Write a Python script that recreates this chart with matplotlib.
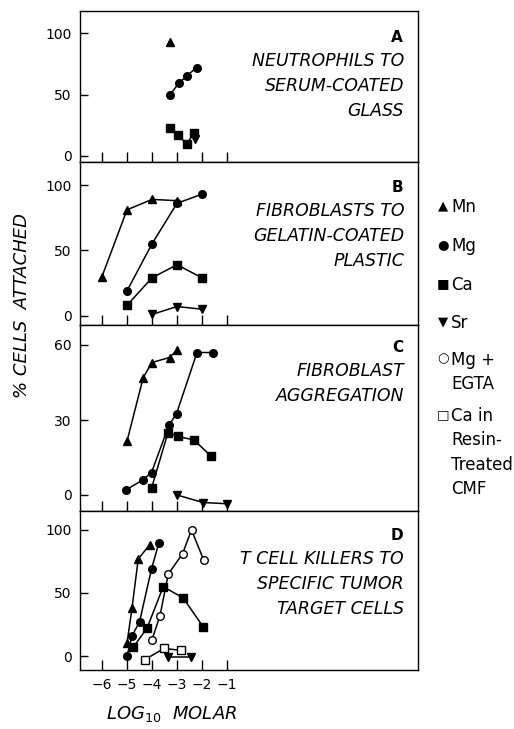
import matplotlib
matplotlib.use("Agg")
import matplotlib.pyplot as plt

# x = log10 molar, y = % cells attached
# panel A: neutrophils to serum-coated glass
a_mn_x = [-3.3]
a_mn_y = [93]
a_mg_x = [-3.27, -2.94, -2.61, -2.22]
a_mg_y = [50, 59, 65, 72]
a_ca_x = [-3.27, -2.97, -2.61, -2.31]
a_ca_y = [23, 17, 10, 19]
a_sr_x = [-2.27]
a_sr_y = [14]

# panel B: fibroblasts to gelatin-coated plastic
b_mn_x = [-6, -5, -4, -3]
b_mn_y = [30, 81, 89, 88]
b_mg_x = [-5, -4, -3, -2]
b_mg_y = [19, 55, 86, 93]
b_ca_x = [-5, -4, -3, -2]
b_ca_y = [8, 29, 39, 29]
b_sr_x = [-4, -3, -2]
b_sr_y = [1, 7, 5]

# panel C: fibroblast aggregation
c_mn_x = [-5, -4.35, -4, -3.3, -3]
c_mn_y = [21.5, 47, 53, 55, 58]
c_mg_x = [-5.05, -4.37, -4.02, -3.32, -3.02, -2.2, -1.57]
c_mg_y = [2, 6, 9, 28, 32.5, 57, 57]
c_ca_x = [-4.02, -3.36, -2.98, -2.32, -1.63]
c_ca_y = [2.7, 25, 23.5, 22, 15.5]
c_sr_x = [-3, -1.96, -1]
c_sr_y = [0, -3, -3.5]

# panel D: T cell killers to specific tumor target cells
d_mn_x = [-5, -4.8, -4.55, -4.1]
d_mn_y = [10, 38, 77, 88]
d_mg_x = [-5, -4.8, -4.5, -4.02, -3.72]
d_mg_y = [0, 16, 27, 69, 90]
d_ca_x = [-4.75, -4.2, -3.55, -2.75, -1.95]
d_ca_y = [7, 22, 55, 46, 23]
d_sr_x = [-3.35, -2.45]
d_sr_y = [-1, -1]
d_egta_x = [-4.0, -3.68, -3.35, -2.78, -2.42, -1.93]
d_egta_y = [13, 32, 65, 81, 100, 76]
d_resin_x = [-4.3, -3.52, -2.85]
d_resin_y = [-3, 6, 4.5]

x_ticks = [-6, -5, -4, -3, -2, -1]
legend_symbols = ["\u25B2", "\u25CF", "\u25A0", "\u25BC", "\u25CB", "\u25A1"]
legend_labels = ["Mn", "Mg", "Ca", "Sr", "Mg +\nEGTA", "Ca in\nResin-\nTreated\nCMF"]

W, H = 514, 729
fig = plt.figure(figsize=(W / 100, H / 100), dpi=100)

left = 80 / W
width = (418 - 80) / W


def make_axes(top_px, bot_px):
    return fig.add_axes([left, 1 - bot_px / H, width, (bot_px - top_px) / H])


style = dict(color="black", lw=1.1, ms=5.5, clip_on=False)

panels = []

ax = make_axes(11, 162)
ax.plot(a_mn_x, a_mn_y, marker="^", ls="none", **style)
ax.plot(a_mg_x, a_mg_y, marker="o", **style)
ax.plot(a_ca_x, a_ca_y, marker="s", **style)
ax.plot(a_sr_x, a_sr_y, marker="v", ls="none", **style)
ax.set_ylim(-4.9, 118)
ax.set_yticks([0, 50, 100])
panels.append(ax)

ax = make_axes(162, 325)
ax.plot(b_mn_x, b_mn_y, marker="^", **style)
ax.plot(b_mg_x, b_mg_y, marker="o", **style)
ax.plot(b_ca_x, b_ca_y, marker="s", **style)
ax.plot(b_sr_x, b_sr_y, marker="v", **style)
ax.set_ylim(-7.1, 117.6)
ax.set_yticks([0, 50, 100])
panels.append(ax)

ax = make_axes(325, 511)
ax.plot(c_mn_x, c_mn_y, marker="^", **style)
ax.plot(c_mg_x, c_mg_y, marker="o", **style)
ax.plot(c_ca_x, c_ca_y, marker="s", **style)
ax.plot(c_sr_x, c_sr_y, marker="v", **style)
ax.set_ylim(-6.4, 68)
ax.set_yticks([0, 30, 60])
panels.append(ax)

ax = make_axes(511, 670)
ax.plot(d_mn_x, d_mn_y, marker="^", **style)
ax.plot(d_mg_x, d_mg_y, marker="o", **style)
ax.plot(d_ca_x, d_ca_y, marker="s", **style)
ax.plot(d_sr_x, d_sr_y, marker="v", **style)
ax.plot(d_egta_x, d_egta_y, marker="o", mfc="white", **style)
ax.plot(d_resin_x, d_resin_y, marker="s", mfc="white", **style)
ax.set_ylim(-11.1, 115)
ax.set_yticks([0, 50, 100])
panels.append(ax)

for i, ax in enumerate(panels):
    ax.set_xlim(-6.88, 6.64)
    ax.set_xticks(x_ticks)
    ax.tick_params(axis="both", direction="in", length=6, width=1,
                   labelsize=10, pad=6)
    ax.tick_params(axis="x", length=7)
    for sp in ax.spines.values():
        sp.set_linewidth(1.0)
    if i < 3:
        ax.set_xticklabels([])

# panel titles
titles = [
    ("A", ["NEUTROPHILS TO", "SERUM-COATED", "GLASS"], 37),
    ("B", ["FIBROBLASTS TO", "GELATIN-COATED", "PLASTIC"], 187),
    ("C", ["FIBROBLAST", "AGGREGATION"], 347),
    ("D", ["T CELL KILLERS TO", "SPECIFIC TUMOR", "TARGET CELLS"], 535),
]
for letter, lines, y0 in titles:
    fig.text(403 / W, 1 - y0 / H, letter, ha="right", va="center",
             fontsize=11, fontweight="bold")
    for k, line in enumerate(lines):
        fig.text(404 / W, 1 - (y0 + 24.5 * (k + 1)) / H, line, ha="right",
                 va="center", fontsize=12.5, style="italic")

fig.text(22 / W, 1 - 305 / H, "% CELLS  ATTACHED", rotation=90, ha="center",
         va="center", fontsize=13, style="italic")
fig.text(172 / W, 1 - 714 / H, "LOG$_{10}$  MOLAR", ha="center", va="center",
         fontsize=13, style="italic")

# legend on the right, symbol aligned with the first line of each entry
legend_rows = [206, 245, 284, 322, 359, 415]
for sym, lab, yy in zip(legend_symbols, legend_labels, legend_rows):
    fig.text(443 / W, 1 - yy / H, sym, ha="center", va="center", fontsize=9.5)
    fig.text(451 / W, 1 - (yy - 8) / H, lab, ha="left", va="top",
             fontsize=12, linespacing=1.45)

fig.savefig("out.png", dpi=100)
